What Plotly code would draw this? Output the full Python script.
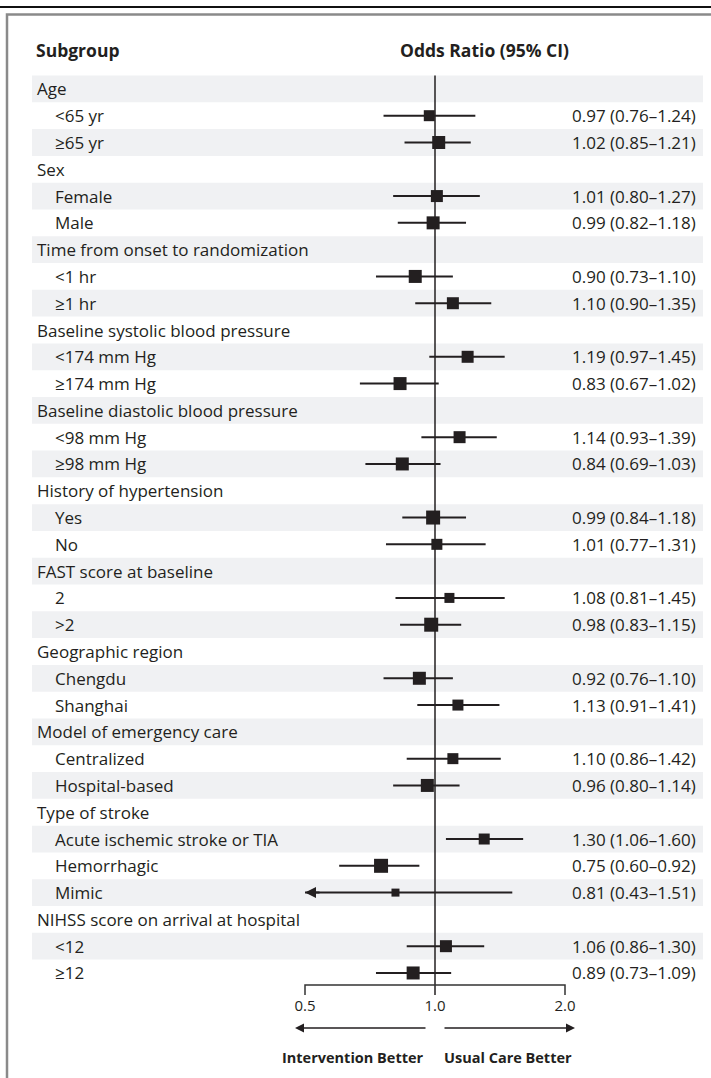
import math
import plotly.graph_objects as go

# ---------------- data ----------------
group_names = [
    "Age", "Sex", "Time from onset to randomization", "Baseline systolic blood pressure",
    "Baseline diastolic blood pressure", "History of hypertension", "FAST score at baseline",
    "Geographic region", "Model of emergency care", "Type of stroke",
    "NIHSS score on arrival at hospital",
]
sub_labels = [
    ["<65 yr", "≥65 yr"],
    ["Female", "Male"],
    ["<1 hr", "≥1 hr"],
    ["<174 mm Hg", "≥174 mm Hg"],
    ["<98 mm Hg", "≥98 mm Hg"],
    ["Yes", "No"],
    ["2", ">2"],
    ["Chengdu", "Shanghai"],
    ["Centralized", "Hospital-based"],
    ["Acute ischemic stroke or TIA", "Hemorrhagic", "Mimic"],
    ["<12", "≥12"],
]
odds_ratio = [[0.97, 1.02], [1.01, 0.99], [0.90, 1.10], [1.19, 0.83], [1.14, 0.84],
              [0.99, 1.01], [1.08, 0.98], [0.92, 1.13], [1.10, 0.96], [1.30, 0.75, 0.81],
              [1.06, 0.89]]
ci_low = [[0.76, 0.85], [0.80, 0.82], [0.73, 0.90], [0.97, 0.67], [0.93, 0.69],
          [0.84, 0.77], [0.81, 0.83], [0.76, 0.91], [0.86, 0.80], [1.06, 0.60, 0.43],
          [0.86, 0.73]]
ci_high = [[1.24, 1.21], [1.27, 1.18], [1.10, 1.35], [1.45, 1.02], [1.39, 1.03],
           [1.18, 1.31], [1.45, 1.15], [1.10, 1.41], [1.42, 1.14], [1.60, 0.92, 1.51],
           [1.30, 1.09]]
# relative weight of each estimate (box size)
box_weight = [[11, 13], [12, 13], [13, 12], [12, 13], [12, 13], [14, 11], [10, 14],
              [13, 11], [11, 13], [11, 14, 8], [12, 13]]
tick_values = [0.5, 1.0, 2.0]
tick_labels = ["0.5", "1.0", "2.0"]

# ---------------- styling ----------------
W, H = 711, 1078
INK = "#231f20"
BAND = "#f0f1f3"
FONT = "Open Sans"
BODY = 17
ROW0_PX, ROW_H = 88.9, 26.79
X1_PX, PX_PER_LOG2 = 435.0, 130.0


def px_to_row(p):
    return (p - ROW0_PX) / ROW_H


x_range = [math.log10(2 ** ((0 - X1_PX) / PX_PER_LOG2)),
           math.log10(2 ** ((W - X1_PX) / PX_PER_LOG2))]
y_range = [px_to_row(H), px_to_row(0)]
axis_min = tick_values[0]

# build rows
rows = []  # (label, is_group, or, lo, hi, w)
for g, subs, ors, los, his, ws in zip(group_names, sub_labels, odds_ratio, ci_low, ci_high, box_weight):
    rows.append((g, True, None, None, None, None))
    for s, o, l, h, w in zip(subs, ors, los, his, ws):
        rows.append((s, False, o, l, h, w))

fig = go.Figure()
shapes = []
annotations = []

# alternating bands
for i in range(len(rows)):
    if i % 2 == 0:
        shapes.append(dict(type="rect", xref="paper", yref="y", x0=32 / W, x1=703 / W,
                           y0=i - 0.5, y1=i + 0.5, fillcolor=BAND, line=dict(width=0),
                           layer="below"))

# frame
shapes.append(dict(type="line", xref="paper", yref="paper", x0=0, x1=1,
                   y0=1 - 7 / H, y1=1 - 7 / H, line=dict(color="#111111", width=2)))
shapes.append(dict(type="rect", xref="paper", yref="paper", x0=7 / W, x1=1.05,
                   y0=-0.05, y1=1 - 14.5 / H, line=dict(color="#8a8a8a", width=2.5),
                   fillcolor="rgba(0,0,0,0)"))

# reference line at OR = 1 and bracket axis
axis_row = px_to_row(985)
tick_end_row = px_to_row(995)
fig.add_trace(go.Scatter(x=[1, 1], y=[-0.5, tick_end_row], mode="lines",
                         line=dict(color=INK, width=1.5), hoverinfo="skip"))
fig.add_trace(go.Scatter(x=[tick_values[0], tick_values[0], tick_values[-1], tick_values[-1]],
                         y=[tick_end_row, axis_row, axis_row, tick_end_row], mode="lines",
                         line=dict(color="#333333", width=1.5), hoverinfo="skip"))
fig.add_trace(go.Scatter(x=tick_values, y=[px_to_row(1007)] * len(tick_values), mode="text",
                         text=tick_labels, textposition="middle center",
                         textfont=dict(family=FONT, size=15, color=INK), hoverinfo="skip"))

# CI lines
lx, ly = [], []
mx, my, ms = [], [], []
for i, (lab, is_g, o, l, h, w) in enumerate(rows):
    if is_g:
        annotations.append(dict(xref="paper", yref="y", x=35 / W, y=i, text=lab,
                                showarrow=False, xanchor="left", yanchor="middle",
                                font=dict(family=FONT, size=BODY, color=INK)))
        continue
    annotations.append(dict(xref="paper", yref="y", x=53 / W, y=i, text=lab,
                            showarrow=False, xanchor="left", yanchor="middle",
                            font=dict(family=FONT, size=BODY, color=INK)))
    annotations.append(dict(xref="paper", yref="y", x=698 / W, y=i,
                            text=f"{o:.2f} ({l:.2f}–{h:.2f})",
                            showarrow=False, xanchor="right", yanchor="middle",
                            font=dict(family=FONT, size=BODY, color=INK)))
    lx += [max(l, axis_min), h, None]
    ly += [i, i, None]
    mx.append(o)
    my.append(i)
    ms.append(w)
    if l < axis_min:
        annotations.append(dict(xref="x", yref="y", x=math.log10(axis_min), y=i,
                                ax=16, ay=0, axref="pixel", ayref="pixel", text="",
                                showarrow=True, arrowhead=2, arrowsize=1.1, arrowwidth=2,
                                arrowcolor=INK))

fig.add_trace(go.Scatter(x=lx, y=ly, mode="lines", line=dict(color=INK, width=2),
                         hoverinfo="skip"))
fig.add_trace(go.Scatter(x=mx, y=my, mode="markers",
                         marker=dict(symbol="square", size=ms, color=INK, opacity=1,
                                     line=dict(width=0)),
                         hoverinfo="skip"))

# headers
annotations.append(dict(xref="paper", yref="y", x=34 / W, y=px_to_row(50), text="<b>Subgroup</b>",
                        showarrow=False, xanchor="left", yanchor="middle",
                        font=dict(family=FONT, size=17.5, color=INK)))
annotations.append(dict(xref="paper", yref="y", x=484 / W, y=px_to_row(50),
                        text="<b>Odds Ratio (95% CI)</b>",
                        showarrow=False, xanchor="center", yanchor="middle",
                        font=dict(family=FONT, size=17.5, color=INK)))

# direction arrows
arrow_y = 1 - 1028 / H
annotations.append(dict(xref="paper", yref="paper", x=295 / W, y=arrow_y, ax=132, ay=0,
                        text="", showarrow=True, arrowhead=2, arrowsize=1.2, arrowwidth=1.5,
                        arrowcolor=INK))
annotations.append(dict(xref="paper", yref="paper", x=575 / W, y=arrow_y, ax=-132, ay=0,
                        text="", showarrow=True, arrowhead=2, arrowsize=1.2, arrowwidth=1.5,
                        arrowcolor=INK))
annotations.append(dict(xref="paper", yref="paper", x=426 / W, y=1 - 1057 / H,
                        text="<b>Intervention Better</b>", showarrow=False,
                        xanchor="right", yanchor="middle",
                        font=dict(family=FONT, size=14.5, color=INK)))
annotations.append(dict(xref="paper", yref="paper", x=442 / W, y=1 - 1057 / H,
                        text="<b>Usual Care Better</b>", showarrow=False,
                        xanchor="left", yanchor="middle",
                        font=dict(family=FONT, size=14.5, color=INK)))

fig.update_layout(
    width=W, height=H, margin=dict(l=0, r=0, t=0, b=0),
    paper_bgcolor="white", plot_bgcolor="white", showlegend=False,
    xaxis=dict(type="log", range=x_range, visible=False, fixedrange=True),
    yaxis=dict(range=y_range, visible=False, fixedrange=True),
    shapes=shapes, annotations=annotations,
)

fig.write_html("out.html", config={"displayModeBar": False},
               post_script="document.body.style.margin='0';document.body.style.overflow='hidden';")
